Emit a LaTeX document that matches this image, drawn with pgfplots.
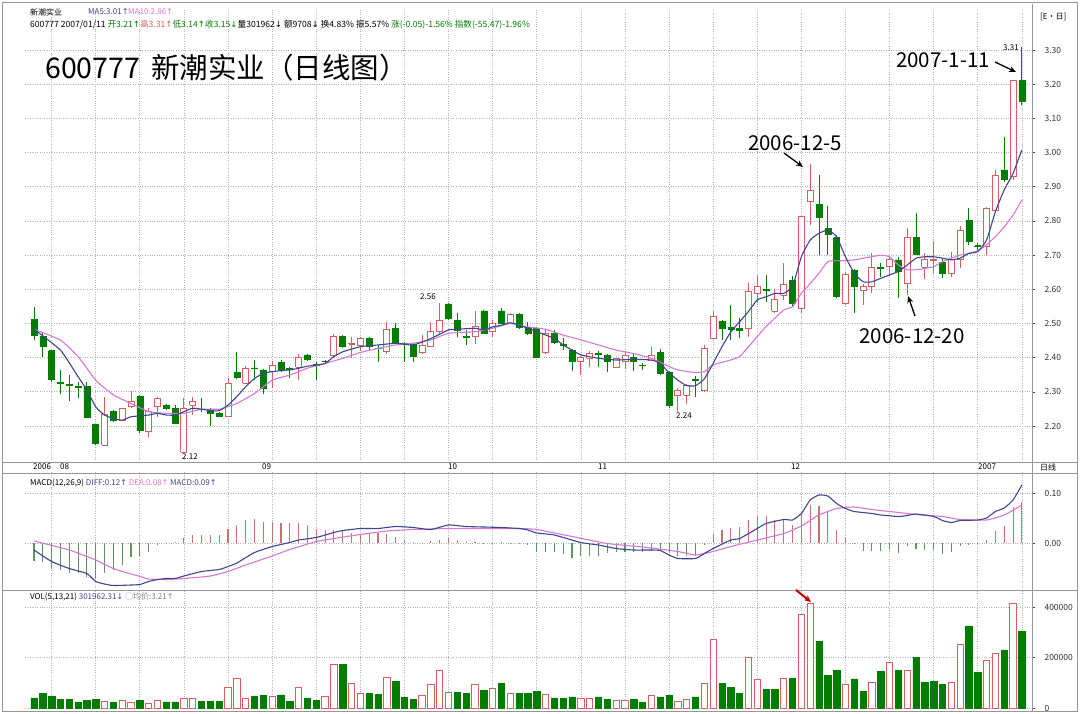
\documentclass[border=0pt]{standalone}
\usepackage{pgfplots}
\pgfplotsset{compat=1.18}
\usepackage{pgfplotstable}
\usepackage{fontspec}
\setmainfont{Noto Sans CJK SC}
\newfontfamily\dv{DejaVu Sans}
\usetikzlibrary{arrows.meta}
\newcommand\ua[1]{{\dv ↑}}
\newcommand\da[1]{{\dv ↓}}
\definecolor{cgreen}{RGB}{0,125,0}
\definecolor{cred}{RGB}{214,96,96}
\definecolor{ma5}{RGB}{62,70,145}
\definecolor{ma10}{RGB}{214,120,214}
\definecolor{hred}{RGB}{200,115,115}
\definecolor{hgreen}{RGB}{95,150,95}
\definecolor{gridc}{RGB}{180,180,180}
\definecolor{framec}{RGB}{150,150,150}

% x o h l c v u   (u=1: hollow red volume bar, 0: green)
\pgfplotstableread{
x o h l c v u
1 2.512 2.549 2.451 2.466 40000 0
2 2.463 2.471 2.403 2.432 57000 0
3 2.420 2.422 2.330 2.336 48000 0
4 2.328 2.364 2.295 2.325 33000 0
5 2.322 2.349 2.274 2.318 33000 0
6 2.315 2.330 2.281 2.312 24000 0
7 2.315 2.330 2.225 2.225 30000 0
8 2.206 2.206 2.144 2.149 34000 0
9 2.144 2.286 2.142 2.235 26000 1
10 2.242 2.247 2.213 2.217 21000 0
11 2.217 2.252 2.214 2.252 28000 1
12 2.256 2.302 2.252 2.271 21000 1
13 2.286 2.290 2.180 2.186 30000 0
14 2.183 2.252 2.167 2.242 17000 1
15 2.256 2.284 2.227 2.281 30000 1
16 2.261 2.264 2.247 2.252 24000 0
17 2.252 2.261 2.206 2.208 24000 0
18 2.123 2.281 2.120 2.252 37000 1
19 2.261 2.286 2.232 2.271 37000 1
20 2.250 2.281 2.242 2.248 26000 0
21 2.249 2.252 2.200 2.237 26000 0
22 2.237 2.242 2.225 2.229 26000 0
23 2.227 2.339 2.225 2.325 83000 1
24 2.357 2.417 2.338 2.342 119000 1
25 2.325 2.376 2.322 2.369 37000 1
26 2.370 2.393 2.336 2.368 48000 0
27 2.364 2.366 2.295 2.310 50000 0
28 2.359 2.390 2.310 2.378 44000 1
29 2.385 2.393 2.357 2.366 52000 0
30 2.369 2.373 2.340 2.367 26000 0
31 2.372 2.410 2.335 2.401 80000 1
32 2.408 2.410 2.390 2.395 37000 0
33 2.380 2.388 2.334 2.378 29000 0
34 2.390 2.394 2.380 2.389 44000 1
35 2.405 2.470 2.400 2.463 172000 1
36 2.463 2.466 2.428 2.432 172000 0
37 2.440 2.461 2.398 2.442 99000 1
38 2.437 2.460 2.420 2.456 57000 1
39 2.456 2.460 2.420 2.432 57000 0
40 2.428 2.437 2.388 2.427 53000 0
41 2.417 2.505 2.410 2.481 120000 1
42 2.486 2.502 2.440 2.442 107000 0
43 2.441 2.447 2.388 2.440 41000 0
44 2.440 2.442 2.388 2.403 33000 0
45 2.414 2.466 2.410 2.437 50000 1
46 2.432 2.505 2.430 2.476 94000 1
47 2.476 2.561 2.470 2.508 147000 1
48 2.557 2.560 2.510 2.515 63000 1
49 2.508 2.530 2.461 2.479 63000 0
50 2.462 2.480 2.437 2.460 59000 0
51 2.461 2.535 2.440 2.490 94000 1
52 2.537 2.540 2.470 2.471 70000 0
53 2.476 2.510 2.460 2.500 77000 1
54 2.537 2.545 2.500 2.500 99000 0
55 2.500 2.530 2.500 2.527 59000 1
56 2.527 2.530 2.485 2.490 59000 0
57 2.490 2.505 2.466 2.471 59000 0
58 2.486 2.490 2.398 2.401 67000 0
59 2.414 2.480 2.410 2.471 53000 1
60 2.471 2.480 2.440 2.444 40000 0
61 2.440 2.456 2.422 2.435 37000 0
62 2.422 2.425 2.362 2.388 44000 0
63 2.388 2.405 2.349 2.401 37000 1
64 2.398 2.420 2.373 2.412 37000 1
65 2.412 2.420 2.372 2.410 44000 0
66 2.408 2.410 2.359 2.388 33000 0
67 2.372 2.400 2.370 2.398 30000 1
68 2.388 2.420 2.366 2.405 30000 1
69 2.401 2.410 2.360 2.388 33000 0
70 2.378 2.385 2.365 2.377 21000 0
71 2.393 2.430 2.390 2.405 50000 1
72 2.415 2.425 2.350 2.354 44000 0
73 2.356 2.360 2.252 2.261 50000 0
74 2.288 2.310 2.242 2.303 26000 1
75 2.290 2.323 2.265 2.318 33000 1
76 2.337 2.345 2.286 2.333 44000 0
77 2.305 2.437 2.300 2.427 96000 1
78 2.457 2.535 2.455 2.520 271000 1
79 2.505 2.510 2.452 2.486 96000 0
80 2.489 2.554 2.452 2.484 83000 0
81 2.486 2.515 2.457 2.480 57000 0
82 2.486 2.619 2.460 2.593 199000 1
83 2.588 2.642 2.559 2.608 112000 1
84 2.600 2.642 2.564 2.598 74000 0
85 2.535 2.600 2.530 2.570 74000 0
86 2.583 2.676 2.570 2.613 119000 1
87 2.627 2.640 2.550 2.559 119000 0
88 2.544 2.815 2.530 2.814 370000 1
89 2.858 2.966 2.788 2.888 415000 1
90 2.849 2.935 2.700 2.810 265000 0
91 2.778 2.845 2.700 2.761 130000 0
92 2.751 2.760 2.575 2.580 150000 0
93 2.559 2.650 2.555 2.644 95000 1
94 2.655 2.660 2.530 2.608 115000 0
95 2.596 2.615 2.555 2.608 65000 0
96 2.608 2.705 2.590 2.663 100000 1
97 2.665 2.676 2.637 2.662 145000 0
98 2.666 2.695 2.640 2.686 180000 1
99 2.686 2.695 2.574 2.652 150000 0
100 2.617 2.780 2.583 2.751 150000 1
101 2.751 2.822 2.700 2.703 200000 0
102 2.664 2.705 2.630 2.686 100000 0
103 2.684 2.740 2.647 2.686 105000 0
104 2.678 2.690 2.632 2.647 95000 0
105 2.647 2.710 2.635 2.686 100000 1
106 2.686 2.785 2.661 2.773 250000 1
107 2.801 2.837 2.730 2.739 325000 0
108 2.728 2.735 2.715 2.726 140000 0
109 2.725 2.840 2.700 2.837 190000 1
110 2.832 2.949 2.825 2.934 215000 1
111 2.949 3.045 2.915 2.922 230000 0
112 2.930 3.210 2.920 3.210 415000 1
113 3.210 3.310 3.140 3.150 302000 0
}\kdata

\pgfplotstableread{
x y
1 2.483
4 2.422
6 2.344
7 2.305
8 2.256
9 2.232
10 2.222
11 2.217
12 2.227
14 2.232
15 2.237
16 2.232
17 2.232
18 2.242
19 2.252
20 2.249
21 2.245
22 2.245
23 2.261
24 2.286
25 2.315
26 2.339
27 2.354
28 2.359
29 2.362
30 2.364
31 2.369
32 2.375
33 2.378
34 2.383
35 2.403
36 2.417
38 2.432
40 2.437
42 2.442
44 2.437
46 2.456
48 2.481
49 2.483
51 2.486
52 2.481
53 2.490
54 2.495
55 2.502
56 2.495
57 2.486
58 2.476
60 2.456
61 2.437
62 2.422
63 2.408
65 2.398
67 2.393
69 2.395
71 2.393
72 2.383
73 2.356
74 2.334
75 2.318
76 2.318
77 2.338
78 2.383
79 2.432
80 2.475
81 2.505
82 2.535
83 2.569
84 2.578
85 2.588
86 2.588
87 2.608
88 2.695
89 2.744
90 2.764
91 2.773
92 2.754
93 2.695
94 2.647
95 2.622
96 2.622
97 2.632
98 2.642
99 2.652
100 2.671
101 2.691
102 2.695
103 2.695
104 2.691
105 2.686
106 2.691
107 2.705
108 2.710
109 2.744
110 2.827
111 2.891
112 2.939
113 3.008
}\mafive

\pgfplotstableread{
x y
1 2.483
4 2.451
6 2.403
8 2.334
10 2.291
12 2.266
14 2.242
16 2.237
18 2.237
20 2.249
22 2.249
23 2.257
24 2.266
26 2.295
28 2.334
30 2.349
32 2.369
34 2.383
36 2.398
38 2.415
40 2.427
42 2.437
44 2.442
46 2.452
48 2.471
51 2.476
53 2.486
55 2.500
57 2.490
59 2.483
61 2.466
63 2.452
65 2.437
67 2.422
69 2.412
71 2.398
73 2.374
74 2.364
76 2.356
77 2.359
78 2.379
80 2.393
81 2.403
82 2.432
84 2.491
86 2.539
87 2.549
88 2.588
89 2.617
90 2.647
91 2.681
92 2.683
93 2.684
94 2.686
95 2.691
96 2.695
97 2.700
98 2.695
99 2.671
100 2.657
101 2.657
102 2.661
103 2.666
104 2.681
105 2.691
106 2.700
107 2.705
108 2.713
109 2.730
110 2.754
111 2.783
112 2.817
113 2.861
}\maten

\pgfplotstableread{
x y
1 -0.014
3 -0.037
5 -0.051
7 -0.061
8 -0.077
9 -0.082
10 -0.085
12 -0.084
13 -0.083
14 -0.077
15 -0.073
16 -0.071
17 -0.071
18 -0.066
20 -0.057
22 -0.053
23 -0.047
24 -0.040
26 -0.019
28 -0.007
30 0.001
31 0.006
33 0.011
35 0.021
36 0.025
38 0.029
40 0.029
42 0.033
44 0.031
46 0.027
48 0.036
50 0.033
52 0.032
54 0.031
56 0.029
57 0.026
58 0.020
60 0.016
63 0.001
65 -0.004
67 -0.011
69 -0.014
71 -0.014
72 -0.015
73 -0.024
74 -0.031
76 -0.031
77 -0.021
78 -0.011
80 0.006
81 0.009
83 0.029
84 0.039
86 0.047
87 0.046
88 0.059
89 0.086
90 0.096
91 0.094
92 0.079
93 0.069
94 0.063
96 0.059
97 0.056
99 0.053
100 0.055
101 0.058
103 0.053
104 0.045
105 0.041
106 0.045
108 0.046
109 0.050
110 0.063
111 0.070
112 0.086
113 0.116
}\diff

\pgfplotstableread{
x y
1 0.004
5 -0.014
8 -0.034
10 -0.051
13 -0.067
14 -0.072
16 -0.073
18 -0.071
21 -0.066
23 -0.057
25 -0.044
28 -0.026
30 -0.013
33 0.003
35 0.009
38 0.017
41 0.024
44 0.027
48 0.029
52 0.029
56 0.029
58 0.027
62 0.013
66 -0.001
70 -0.008
74 -0.017
76 -0.024
78 -0.017
80 -0.007
83 0.006
86 0.019
88 0.034
90 0.056
92 0.069
94 0.072
96 0.067
99 0.061
101 0.057
104 0.053
106 0.047
109 0.046
111 0.056
113 0.076
}\dea

\pgfplotstableread{
x m
1 -0.035
2 -0.037
3 -0.052
4 -0.053
5 -0.060
6 -0.060
7 -0.067
8 -0.072
9 -0.060
10 -0.053
11 -0.043
12 -0.028
13 -0.025
14 -0.017
15 -0.003
16 0.001
17 0.002
18 0.010
19 0.016
20 0.016
21 0.016
22 0.016
23 0.029
24 0.036
25 0.046
26 0.048
27 0.043
28 0.043
29 0.041
30 0.041
31 0.041
32 0.036
33 0.029
34 0.027
35 0.027
36 0.026
37 0.021
38 0.019
39 0.019
40 0.020
41 0.019
42 0.013
43 0.006
44 0.002
45 0.0005
46 0.005
47 0.007
48 0.011
49 0.006
50 0.003
51 0.003
52 0.001
53 0.001
54 0.002
55 0.001
56 0.0005
57 -0.003
58 -0.017
59 -0.017
60 -0.017
61 -0.022
62 -0.029
63 -0.025
64 -0.026
65 -0.025
66 -0.020
67 -0.018
68 -0.017
69 -0.017
70 -0.017
71 -0.015
72 -0.015
73 -0.020
74 -0.025
75 -0.025
76 -0.025
77 -0.003
78 0.019
79 0.027
80 0.031
81 0.033
82 0.046
83 0.054
84 0.054
85 0.046
86 0.046
87 0.036
88 0.059
89 0.076
90 0.074
91 0.063
92 0.027
93 0.011
94 -0.002
95 -0.015
96 -0.015
97 -0.015
98 -0.014
99 -0.019
100 -0.005
101 -0.011
102 -0.013
103 -0.014
104 -0.021
105 -0.017
106 -0.006
107 -0.004
108 -0.002
109 0.006
110 0.025
111 0.034
112 0.073
113 0.083
}\mdata

\pgfplotsset{
  panel/.style={
    scale only axis, width=1006.82bp, xmin=0, xmax=114.15,
    anchor=north west,
    axis line style={draw=none},
    xtick={3,8,...,113}, xticklabels={}, xtick style={draw=none},
    ytick pos=right, yticklabel pos=right,
    tick align=outside, major tick length=3bp,
    ytick style={black!70, line width=0.5bp},
    grid=major, grid style={dotted, gridc, line width=0.7bp},
    yticklabel style={font=\fontsize{8.5bp}{9bp}\selectfont, text=black!80, anchor=west, xshift=6bp},
    /pgf/number format/assume math mode=true,
    scaled y ticks=false,
  },
}

\begin{document}
\begin{tikzpicture}[x=1bp,y=1bp]
\useasboundingbox (0,0) rectangle (1080,-714);
\fill[white] (0,0) rectangle (1080,-714);

% ---------------- price panel ----------------
\begin{axis}[panel, at={(25.18bp,-8bp)}, height=454bp, ymin=2.0946, ymax=3.423,
  ytick={2.2,2.3,2.4,2.5,2.6,2.7,2.8,2.9,3.0,3.1,3.2,3.3},
  yticklabel style={/pgf/number format/fixed, /pgf/number format/fixed zerofill, /pgf/number format/precision=2}]
\pgfplotstablegetrowsof{\kdata}
\pgfmathtruncatemacro\nrows{\pgfplotsretval-1}
\pgfplotsforeachungrouped \r in {0,...,\nrows}{%
  \pgfplotstablegetelem{\r}{x}\of\kdata \let\cx\pgfplotsretval
  \pgfplotstablegetelem{\r}{o}\of\kdata \let\co\pgfplotsretval
  \pgfplotstablegetelem{\r}{h}\of\kdata \let\ch\pgfplotsretval
  \pgfplotstablegetelem{\r}{l}\of\kdata \let\cl\pgfplotsretval
  \pgfplotstablegetelem{\r}{c}\of\kdata \let\cc\pgfplotsretval
  \pgfmathsetmacro\xa{\cx-0.34}%
  \pgfmathsetmacro\xb{\cx+0.34}%
  \pgfmathtruncatemacro\up{\cc>=\co ? 1 : 0}%
  \ifnum\up=1
    \edef\tmp{\noexpand\addplot[cred, line width=0.9bp, forget plot] coordinates {(\cx,\cl) (\cx,\ch)};
      \noexpand\addplot[draw=cred, fill=white, line width=0.9bp, forget plot] coordinates {(\xa,\co) (\xb,\co) (\xb,\cc) (\xa,\cc) (\xa,\co)};}%
  \else
    \edef\tmp{\noexpand\addplot[cgreen, line width=0.9bp, forget plot] coordinates {(\cx,\cl) (\cx,\ch)};
      \noexpand\addplot[draw=cgreen, fill=cgreen, line width=0.6bp, forget plot] coordinates {(\xa,\co) (\xb,\co) (\xb,\cc) (\xa,\cc) (\xa,\co)};}%
  \fi
  \tmp
}
\addplot[ma10, line width=1.1bp, smooth, tension=0.3] table[x=x,y=y] {\maten};
\addplot[ma5, line width=1.1bp, smooth, tension=0.3] table[x=x,y=y] {\mafive};
\end{axis}

% ---------------- MACD panel ----------------
\begin{axis}[panel, at={(25.18bp,-472bp)}, height=118bp, ymin=-0.094, ymax=0.142,
  ytick={0,0.1},
  yticklabel style={/pgf/number format/fixed, /pgf/number format/fixed zerofill, /pgf/number format/precision=2}]
\addplot[ycomb, hred, line width=1.1bp, restrict expr to domain={\thisrow{m}}{0:1}] table[x=x,y=m] {\mdata};
\addplot[ycomb, hgreen, line width=1.1bp, restrict expr to domain={\thisrow{m}}{-1:0}] table[x=x,y=m] {\mdata};
\addplot[ma10, line width=1.1bp, smooth, tension=0.3] table[x=x,y=y] {\dea};
\addplot[ma5, line width=1.1bp, smooth, tension=0.3] table[x=x,y=y] {\diff};
\end{axis}

% ---------------- volume panel ----------------
\begin{axis}[panel, at={(25.18bp,-590bp)}, height=121bp, ymin=-11881, ymax=467327,
  ytick={0,200000,400000}, yticklabels={0,200000,400000}]
\addplot[ybar, bar width=0.72, bar shift=0pt, draw=cred, fill=white, line width=0.9bp,
  restrict expr to domain={\thisrow{u}}{0.5:1.5}] table[x=x,y=v] {\kdata};
\addplot[ybar, bar width=0.72, bar shift=0pt, draw=cgreen, fill=cgreen, line width=0.6bp,
  restrict expr to domain={\thisrow{u}}{-0.5:0.5}] table[x=x,y=v] {\kdata};
\end{axis}

% ---------------- frame & separators ----------------
\draw[framec, line width=0.8] (3,-462) -- (1077,-462);
\draw[framec, line width=0.8] (3,-473) -- (1077,-473);
\draw[framec, line width=0.8] (3,-590) -- (1077,-590);
\draw[framec, line width=0.8] (1032,-4) -- (1032,-711);
\draw[framec, line width=1.5] (2.5,-2.5) rectangle (1077.5,-711.5);

% ---------------- texts ----------------
\begin{scope}[every node/.style={inner sep=0pt, anchor=west, font=\fontsize{8bp}{9bp}\selectfont}]
\node at (30,-12) {新潮实业};
\node[text=ma5] at (88,-12) {MA5:3.01\ua{}};
\node[text=ma10] at (128,-12) {MA10:2.86\ua{}};
\node[font=\fontsize{8.6bp}{9bp}\selectfont] at (30,-25) {600777 2007/01/11 \textcolor{cgreen}{开3.21\ua{}}\textcolor{cred}{高3.31\ua{}}\textcolor{cgreen}{低3.14\ua{}收3.15\da{}}量301962\da{} 额9708\da{} 换4.83\% 振5.57\% \textcolor{cgreen}{涨(-0.05)-1.56\% 指数(-55.47)-1.96\%}};
\node at (30,-483) {MACD(12,26,9) \textcolor{ma5}{DIFF:0.12\ua{}} \textcolor{ma10}{DEA:0.08\ua{}} \textcolor{ma5}{MACD:0.09\ua{}}};
\node at (30,-597) {VOL(5,13,21) \textcolor{ma5}{301962.31\da{}} \textcolor{black!50}{○均价:3.21\ua{}}};
\node at (33,-467) {2006};
\node at (60,-467) {08};
\node at (262,-467) {09};
\node at (448,-467) {10};
\node at (598,-467) {11};
\node at (791,-467) {12};
\node at (978,-467) {2007};
\node at (1040,-467) {日线};
\node at (1040,-17) {[E·日]};
\node at (420,-297) {2.56};
\node at (182,-457) {2.12};
\node at (676,-416) {2.24};
\node at (1003,-48) {3.31};
\end{scope}

\node[anchor=west, inner sep=0pt, font=\fontsize{28.5bp}{30bp}\selectfont] at (45,-68) {600777\ \,新潮实业（日线图）};
\node[inner sep=0pt, font=\fontsize{20.5bp}{22bp}\selectfont] at (943,-60) {2007-1-11};
\node[inner sep=0pt, font=\fontsize{20.5bp}{22bp}\selectfont] at (795,-143) {2006-12-5};
\node[inner sep=0pt, font=\fontsize{20.5bp}{22bp}\selectfont] at (912,-336) {2006-12-20};
\draw[-{Stealth[length=7bp,width=6bp]}, line width=1.3bp] (995,-62) -- (1016,-72);
\draw[-{Stealth[length=7bp,width=6bp]}, line width=1.3bp] (784,-153) -- (803,-167);
\draw[-{Stealth[length=7bp,width=6bp]}, line width=1.3bp] (915,-316) -- (908,-296);
\draw[-{Stealth[length=7bp,width=6bp]}, line width=2bp, red!70!black] (796,-590) -- (811,-602);
\end{tikzpicture}
\end{document}
